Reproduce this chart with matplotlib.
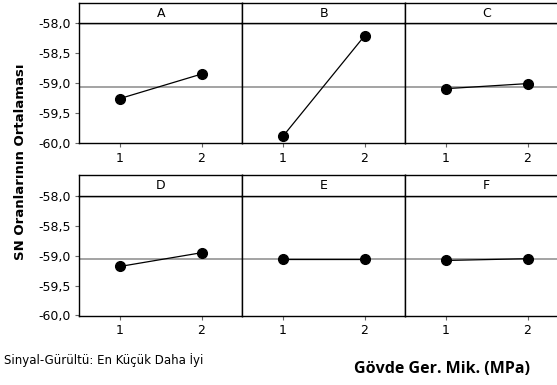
import numpy as np
import matplotlib
matplotlib.use("Agg")
import matplotlib.pyplot as plt

# main effects plot for SN ratios
factors = ['A', 'B', 'C', 'D', 'E', 'F']
levels = [1, 2]
sn_A = [-59.26, -58.85]
sn_B = [-59.89, -58.21]
sn_C = [-59.095, -59.01]
sn_D = [-59.18, -58.95]
sn_E = [-59.06, -59.06]
sn_F = [-59.08, -59.05]
grand_mean = -59.06
yticks = [-58.0, -58.5, -59.0, -59.5, -60.0]
ytick_labels = ['-58,0', '-58,5', '-59,0', '-59,5', '-60,0']

sn_values = [sn_A, sn_B, sn_C, sn_D, sn_E, sn_F]

W, H = 557, 385
fig = plt.figure(figsize=(W / 100, H / 100), dpi=100)

left0 = 79.3
pw = 163.0
rows = [(23.3, 143.3, 3.0), (196.0, 316.0, 175.0)]  # plot top, plot bottom, strip top

for i, (name, vals) in enumerate(zip(factors, sn_values)):
    r, c = divmod(i, 3)
    ptop, pbot, stop = rows[r]
    x0 = left0 + c * pw
    ax = fig.add_axes([x0 / W, 1 - pbot / H, pw / W, (pbot - ptop) / H])
    sx = fig.add_axes([x0 / W, 1 - ptop / H, pw / W, (ptop - stop) / H])

    ax.axhline(grand_mean, color='#8a8a8a', lw=1.1, zorder=1)
    ax.plot(levels, vals, color='black', lw=0.9, marker='o', markersize=7,
            zorder=3, clip_on=False)
    ax.set_xlim(0.5, 2.5)
    ax.set_ylim(-60.01, -58.0)
    ax.set_xticks(levels)
    ax.set_xticklabels([str(l) for l in levels], fontsize=9)
    ax.set_yticks(yticks)
    if c == 0:
        ax.set_yticklabels(ytick_labels, fontsize=9)
    else:
        ax.tick_params(axis='y', left=False, labelleft=False)
    ax.tick_params(direction='out', length=3, width=0.8, color='#666666', pad=3)
    for s in ax.spines.values():
        s.set_linewidth(1.0)

    sx.set_xticks([])
    sx.set_yticks([])
    for s in sx.spines.values():
        s.set_linewidth(1.0)
    sx.text(0.5, 0.5, name, ha='center', va='center', fontsize=9,
            transform=sx.transAxes)

fig.text(21 / W, 1 - 162 / H, 'SN Oranlarının Ortalaması', rotation=90,
         ha='center', va='center', fontsize=9.5, fontweight='bold')
fig.text(4 / W, 1 - 360 / H, 'Sinyal-Gürültü: En Küçük Daha İyi',
         ha='left', va='center', fontsize=8.5)
fig.text(442 / W, 1 - 369 / H, 'Gövde Ger. Mik. (MPa)', ha='center',
         va='center', fontsize=11.5, fontweight='bold', family='Open Sans')

fig.savefig('out.png', dpi=100)
